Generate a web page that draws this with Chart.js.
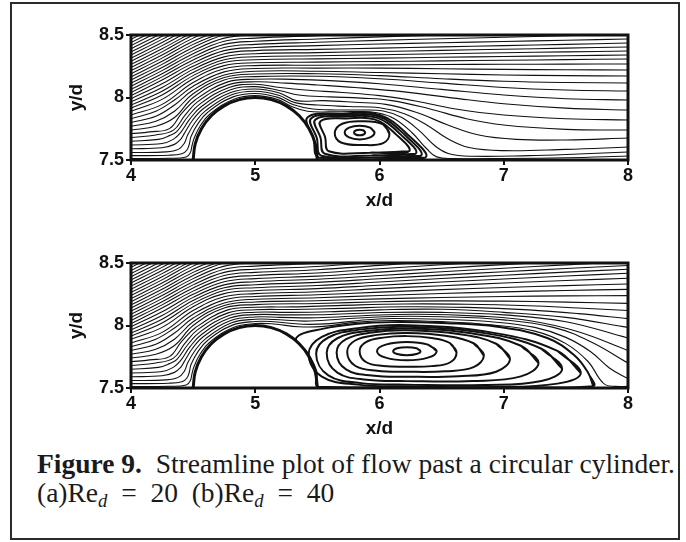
<!DOCTYPE html>
<html>
<head>
<meta charset="utf-8">
<script src="https://cdn.jsdelivr.net/npm/chart.js@4.4.1/dist/chart.umd.min.js"></script>
<style>
  body { margin: 0; background: #fff; }
  #wrap { position: relative; width: 686px; height: 542px; overflow: hidden; }
  #frame { position: absolute; left: 10px; top: 2px; width: 670px; height: 538px; border: 2px solid #2b2b2b; box-sizing: border-box; }
  canvas { position: absolute; left: 0; }
  #caption { position: absolute; left: 37px; top: 449px; font-family: "Liberation Serif", "Times New Roman", serif;
             font-size: 27.5px; line-height: 29px; color: #1a1a1a; white-space: nowrap; }
  #caption sub { font-size: 0.68em; line-height: 0; vertical-align: -0.28em; }
</style>
</head>
<body>
<div id="wrap">
  <div id="frame"></div>
  <canvas id="chartA" width="686" height="215" style="top:0px"></canvas>
  <canvas id="chartB" width="686" height="215" style="top:228px"></canvas>
  <div id="caption"><b>Figure 9.</b>&nbsp; Streamline plot of flow past a circular cylinder.<br>(a)Re<sub><i>d</i></sub>&ensp;=&ensp;20&ensp;(b)Re<sub><i>d</i></sub>&ensp;=&ensp;40</div>
</div>
<script>
// axes
const xTicks = [4, 5, 6, 7, 8];
const yTicks = [7.5, 8, 8.5];

// cylinder outline (x, y pairs)
const cylinder = [4.5,7.5, 4.517,7.629, 4.567,7.75, 4.646,7.854, 4.75,7.933, 4.871,7.983, 5,8,
  5.129,7.983, 5.25,7.933, 5.354,7.854, 5.433,7.75, 5.483,7.629, 5.5,7.5];

// streamlines upstream of x = 5 (same in both panels)
const upstream = [
  [4,7.512, 4.3,7.514, 4.445,7.524, 4.478,7.56, 4.49,7.61, 4.5095,7.6785, 4.559,7.7756, 4.6337,7.8663, 4.8235,7.9849, 5,8.015],
  [4,7.535, 4.3,7.538, 4.41,7.55, 4.45,7.58, 4.47,7.63, 4.483,7.688, 4.538,7.789, 4.618,7.882, 4.817,8.003, 5,8.032],
  [4,7.56, 4.28,7.565, 4.38,7.585, 4.43,7.635, 4.455,7.698, 4.517,7.802, 4.603,7.897, 4.81,8.022, 5,8.05],
  [4,7.59, 4.25,7.598, 4.35,7.625, 4.4,7.665, 4.427,7.709, 4.494,7.816, 4.586,7.914, 4.803,8.04, 5,8.068],
  [4,7.62, 4.25,7.632, 4.34,7.665, 4.399,7.719, 4.474,7.829, 4.57,7.93, 4.796,8.06, 5,8.087],
  [4,7.65, 4.22,7.665, 4.31,7.695, 4.37,7.729, 4.453,7.842, 4.553,7.947, 4.789,8.08, 5,8.106],
  [4,7.68, 4.2,7.7, 4.342,7.739, 4.432,7.855, 4.535,7.965, 4.781,8.101, 5,8.126],
  [4,7.71, 4.15,7.725, 4.309,7.751, 4.406,7.871, 4.518,7.982, 4.773,8.123, 5,8.146],
  [4,7.74, 4.2,7.77, 4.35,7.84, 4.5,8.0, 4.75,8.14, 5,8.167],
  [4,7.77, 4.2,7.81, 4.35,7.89, 4.5,8.03, 4.75,8.16, 5,8.188],
  [4,7.80, 4.2,7.85, 4.35,7.94, 4.5,8.06, 4.75,8.18, 5,8.21],
  [4,7.83, 4.2,7.89, 4.35,7.98, 4.5,8.09, 4.75,8.205, 5,8.232],
  [4,7.86, 4.25,7.945, 4.5,8.12, 4.75,8.23, 5,8.255],
  [4,7.89, 4.25,7.985, 4.5,8.15, 4.75,8.255, 5,8.278],
  [4,7.915, 4.25,8.02, 4.5,8.175, 4.75,8.28, 5,8.302],
  [4,7.94, 4.25,8.05, 4.5,8.2, 4.75,8.302, 5,8.326],
  [4,7.965, 4.25,8.08, 4.5,8.225, 4.75,8.325, 5,8.35],
  [4,7.99, 4.25,8.11, 4.5,8.25, 4.75,8.35, 5,8.375],
  [4,8.015, 4.25,8.14, 4.5,8.275, 4.75,8.375, 5,8.40],
  [4,8.04, 4.25,8.165, 4.5,8.30, 4.75,8.40, 5,8.425],
  [4,8.065, 4.25,8.19, 4.5,8.325, 4.75,8.425, 5,8.45],
  [4,8.09, 4.25,8.215, 4.5,8.35, 4.75,8.45, 5,8.475],
  [4,8.115, 4.25,8.24, 4.5,8.375, 4.75,8.475, 5,8.50],
  [4,8.14, 4.25,8.265, 4.5,8.40, 4.75,8.50, 5,8.525],
  [4,8.165, 4.25,8.29, 4.5,8.425, 4.75,8.525],
  [4,8.19, 4.25,8.315, 4.5,8.45, 4.75,8.55],
  [4,8.215, 4.25,8.34, 4.5,8.475, 4.75,8.575],
  [4,8.24, 4.25,8.365, 4.5,8.50, 4.75,8.60],
  [4,8.265, 4.25,8.39, 4.5,8.525],
  [4,8.29, 4.25,8.415, 4.5,8.55],
  [4,8.315, 4.25,8.44, 4.5,8.575],
  [4,8.34, 4.25,8.465, 4.5,8.60],
  [4,8.365, 4.25,8.49, 4.5,8.625],
  [4,8.39, 4.25,8.515, 4.5,8.65],
  [4,8.415, 4.25,8.54],
  [4,8.44, 4.25,8.565],
  [4,8.465, 4.25,8.59],
  [4,8.49, 4.25,8.615]
];

// downstream parts, Re = 20
const wakeA = [
  [5.1765,7.985, 5.298,7.926, 5.42,7.89, 5.6,7.885, 5.8,7.887, 5.98,7.878, 6.12,7.83, 6.26,7.72, 6.38,7.59, 6.46,7.525, 6.6,7.512, 7,7.512, 7.5,7.518, 8,7.532],
  [5.182,8.001, 5.31,7.942, 5.45,7.91, 5.65,7.9, 5.85,7.9, 6.03,7.892, 6.18,7.84, 6.32,7.735, 6.45,7.61, 6.56,7.55, 6.75,7.53, 7.2,7.535, 7.6,7.548, 8,7.564],
  [5.188,8.018, 5.321,7.959, 5.5,7.94, 5.75,7.928, 6,7.918, 6.2,7.87, 6.38,7.78, 6.55,7.67, 6.72,7.6, 7,7.575, 7.5,7.585, 8,7.604],
  [5.195,8.036, 5.333,7.975, 5.55,7.975, 5.8,7.962, 6.05,7.945, 6.3,7.88, 6.55,7.78, 6.8,7.7, 7.1,7.665, 7.5,7.66, 8,7.676],
  [5.202,8.054, 5.35,8.02, 5.6,8.005, 5.85,7.995, 6.1,7.975, 6.4,7.91, 6.7,7.83, 7,7.78, 7.5,7.745, 8,7.74],
  [5.2,8.08, 5.4,8.06, 5.7,8.04, 6,8.015, 6.3,7.97, 6.6,7.91, 7,7.86, 7.5,7.83, 8,7.82],
  [5.25,8.115, 5.5,8.1, 5.8,8.08, 6.2,8.045, 6.6,7.995, 7,7.95, 7.5,7.915, 8,7.90],
  [5.3,8.145, 5.6,8.135, 6,8.11, 6.5,8.065, 7,8.02, 7.5,7.99, 8,7.98],
  [5.5,8.17, 6,8.15, 6.5,8.115, 7,8.08, 7.5,8.06, 8,8.052],
  [5.5,8.19, 6,8.175, 6.5,8.15, 7,8.13, 7.5,8.12, 8,8.116],
  [5.5,8.21, 6,8.2, 6.5,8.19, 7,8.18, 7.5,8.175, 8,8.172],
  [5.5,8.235, 6,8.235, 6.5,8.23, 7,8.225, 7.5,8.222, 8,8.22],
  [5.5,8.258, 6,8.261, 6.5,8.264, 7,8.266, 7.5,8.267, 8,8.268],
  [5.5,8.283, 6,8.288, 6.5,8.293, 7,8.298, 7.5,8.303, 8,8.308],
  [5.5,8.309, 6,8.315, 6.5,8.322, 7,8.328, 7.5,8.334, 8,8.34],
  [5.5,8.334, 6,8.342, 6.5,8.35, 7,8.358, 7.5,8.365, 8,8.372],
  [5.5,8.359, 6,8.368, 6.5,8.377, 7,8.386, 7.5,8.395, 8,8.404],
  [5.5,8.385, 6,8.395, 6.5,8.405, 7,8.415, 7.5,8.425, 8,8.436],
  [5.5,8.415, 6,8.428, 6.5,8.438, 7,8.448, 7.5,8.458, 8,8.468],
  [5.5,8.442, 6,8.457, 6.5,8.47, 7,8.482, 7.5,8.494, 8,8.506],
  [5.5,8.468, 6,8.485, 6.5,8.5, 7,8.515],
  [5.5,8.495, 6,8.515],
  [5.5,8.52]
];

// downstream parts, Re = 40
const wakeB = [
  [5.15,8.012, 5.35,7.99, 5.55,7.993, 5.8,8.025, 6.1,8.04, 6.5,8.031, 6.9,8.005, 7.25,7.955, 7.5,7.855, 7.68,7.71, 7.77,7.575, 7.82,7.525, 7.9,7.513, 8,7.513],
  [5.15,8.03, 5.38,8.01, 5.6,8.015, 5.85,8.042, 6.1,8.056, 6.5,8.05, 6.9,8.03, 7.25,7.985, 7.5,7.905, 7.7,7.79, 7.85,7.66, 8,7.575],
  [5.15,8.048, 5.4,8.035, 5.7,8.052, 6.1,8.072, 6.5,8.07, 7.0,8.045, 7.4,7.985, 7.7,7.87, 8,7.70],
  [5.2,8.065, 5.5,8.062, 5.9,8.08, 6.3,8.09, 6.8,8.075, 7.2,8.04, 7.6,7.95, 8,7.80],
  [5.25,8.085, 5.6,8.088, 6.0,8.104, 6.5,8.105, 7.0,8.085, 7.5,8.03, 8,7.90],
  [5.25,8.105, 5.6,8.11, 6.0,8.125, 6.5,8.13, 7.0,8.105, 7.5,8.065, 8,7.985],
  [5.3,8.128, 5.7,8.137, 6.2,8.15, 6.7,8.145, 7.2,8.125, 7.6,8.095, 8,8.055],
  [5.3,8.149, 5.7,8.161, 6.2,8.172, 6.7,8.17, 7.2,8.158, 7.6,8.14, 8,8.12],
  [5.5,8.176, 6,8.19, 6.5,8.197, 7,8.195, 7.5,8.187, 8,8.177],
  [5.5,8.198, 6,8.213, 6.5,8.224, 7,8.232, 7.5,8.237, 8,8.239],
  [5.5,8.222, 6,8.24, 6.5,8.256, 7,8.269, 7.5,8.28, 8,8.289],
  [5.5,8.246, 6,8.267, 6.5,8.287, 7,8.304, 7.5,8.319, 8,8.332],
  [5.5,8.27, 6,8.295, 6.5,8.318, 7,8.34, 7.5,8.36, 8,8.378],
  [5.5,8.295, 6,8.322, 6.5,8.348, 7,8.372, 7.5,8.396, 8,8.418],
  [5.5,8.32, 6,8.348, 6.5,8.376, 7,8.402, 7.5,8.427, 8,8.45],
  [5.5,8.345, 6,8.374, 6.5,8.403, 7,8.43, 7.5,8.456, 8,8.48],
  [5.5,8.37, 6,8.4, 6.5,8.43, 7,8.458, 7.5,8.485, 8,8.51],
  [5.5,8.395, 6,8.427, 6.5,8.458, 7,8.487, 7.5,8.515],
  [5.5,8.42, 6,8.454, 6.5,8.486, 7,8.516],
  [5.5,8.446, 6,8.481, 6.5,8.515],
  [5.5,8.472, 6,8.508],
  [5.5,8.498, 6,8.535],
  [5.5,8.525]
];

// closed recirculation loops, Re = 20
const eddyA = [
  [5.885,7.72, 5.872,7.736, 5.84,7.742, 5.808,7.736, 5.795,7.72, 5.808,7.704, 5.84,7.698, 5.872,7.704],
  [5.96,7.72, 5.925,7.759, 5.84,7.775, 5.755,7.759, 5.72,7.72, 5.755,7.681, 5.84,7.665, 5.925,7.681],
  [6.08,7.71, 6.03,7.785, 5.86,7.81, 5.7,7.79, 5.64,7.715, 5.69,7.64, 5.87,7.62, 6.03,7.635],
  [5.9225,7.559, 6.2375,7.57, 6.1325,7.705, 5.96,7.825, 5.735,7.8325, 5.525,7.81, 5.5625,7.6825, 5.5925,7.57],
  [5.9335,7.537, 6.2905,7.55, 6.1715,7.703, 5.976,7.839, 5.721,7.8475, 5.483,7.822, 5.5255,7.6775, 5.5595,7.55],
  [5.942,7.52, 6.333,7.534, 6.2027,7.7014, 5.989,7.85, 5.71,7.8595, 5.449,7.832, 5.496,7.6735, 5.533,7.534],
  [5.95,7.505, 6.37,7.52, 6.23,7.70, 6.0,7.86, 5.7,7.87, 5.42,7.84, 5.47,7.67, 5.51,7.52]
];

// closed recirculation loops, Re = 40
const eddyB = [
  [6.33,7.795, 6.298,7.818, 6.22,7.827, 6.142,7.818, 6.11,7.795, 6.142,7.772, 6.22,7.763, 6.298,7.772],
  [6.46,7.795, 6.39,7.847, 6.22,7.868, 6.05,7.847, 5.98,7.795, 6.05,7.743, 6.22,7.722, 6.39,7.743],
  [6.62,7.785, 6.566,7.86, 6.42,7.9, 6.22,7.915, 6.03,7.903, 5.891,7.867, 5.84,7.795, 5.891,7.708, 6.03,7.676, 6.22,7.67, 6.42,7.675, 6.566,7.704],
  [6.84,7.76, 6.757,7.858, 6.53,7.918, 6.22,7.94, 5.98,7.925, 5.804,7.88, 5.74,7.79, 5.804,7.678, 5.98,7.638, 6.22,7.63, 6.53,7.634, 6.757,7.667],
  [7.05,7.735, 6.939,7.854, 6.635,7.932, 6.22,7.962, 5.938,7.944, 5.731,7.891, 5.655,7.785, 5.731,7.649, 5.938,7.6, 6.22,7.59, 6.635,7.594, 6.939,7.63],
  [7.28,7.70, 7.138,7.838, 6.75,7.936, 6.22,7.976, 5.898,7.956, 5.661,7.898, 5.575,7.78, 5.661,7.623, 5.898,7.566, 6.22,7.555, 6.75,7.556, 7.138,7.593],
  [7.47,7.655, 7.303,7.814, 6.845,7.939, 6.22,7.99, 5.855,7.969, 5.588,7.904, 5.49,7.775, 5.588,7.601, 5.855,7.539, 6.22,7.527, 6.845,7.524, 7.303,7.556],
  [7.62,7.62, 7.432,7.797, 6.92,7.941, 6.22,8.002, 5.825,7.979, 5.536,7.909, 5.43,7.77, 5.536,7.591, 5.825,7.527, 6.22,7.514, 6.92,7.508, 7.432,7.535],
  [7.72,7.515, 7.68,7.62, 7.57,7.76, 7.35,7.90, 6.95,7.99, 6.5,8.02, 6.1,8.027, 5.8,8.012, 5.55,7.975, 5.33,7.90,
   5.42,7.78, 5.49,7.64, 5.51,7.51, 6.2,7.505, 7.2,7.505]
];

const INK = '#111';
const SANS = '"Liberation Sans", Arial, Helvetica, sans-serif';

function toPts(flat) {
  const pts = [];
  for (let i = 0; i < flat.length; i += 2) pts.push({ x: flat[i], y: flat[i + 1] });
  return pts;
}

function lineSet(flat, width) {
  return { data: toPts(flat), showLine: true, borderColor: INK, borderWidth: width,
           pointRadius: 0, tension: 0.4, fill: false };
}

// frame round the plot area
const boxPlugin = {
  id: 'box',
  afterDatasetsDraw(chart) {
    const a = chart.chartArea, c = chart.ctx;
    c.save();
    c.lineWidth = 3;
    c.strokeStyle = INK;
    c.strokeRect(a.left, a.top, a.right - a.left, a.bottom - a.top);
    c.restore();
  }
};

function makeChart(id, wake, eddies) {
  const datasets = [];
  upstream.forEach((up, k) => {
    datasets.push(lineSet(up.concat(wake[k] || []), 1.1));
  });
  eddies.forEach(loop => {
    // close the loop: repeat first two points
    datasets.push(lineSet(loop.concat(loop.slice(0, 4)), 2));
  });
  datasets.push(lineSet(cylinder, 3));

  new Chart(document.getElementById(id), {
    type: 'scatter',
    data: { datasets },
    options: {
      responsive: false,
      animation: false,
      events: [],
      layout: { padding: { top: 35, right: 58, left: 0, bottom: 0 } },
      plugins: { legend: { display: false }, tooltip: { enabled: false } },
      scales: {
        x: {
          type: 'linear', min: 4, max: 8,
          afterBuildTicks: s => { s.ticks = xTicks.map(v => ({ value: v })); },
          afterFit: s => { s.height = 55; },
          border: { display: false },
          grid: { drawOnChartArea: false, drawTicks: true, tickLength: 5, lineWidth: 2, color: INK },
          ticks: { color: INK, padding: 0, maxRotation: 0, font: { family: SANS, size: 18, weight: 'bold' },
                   callback: v => String(v) },
          title: { display: true, text: 'x/d', color: INK, padding: { top: 0, bottom: 3 },
                   font: { family: SANS, size: 19, weight: 'bold' } }
        },
        y: {
          type: 'linear', min: 7.5, max: 8.5,
          afterBuildTicks: s => { s.ticks = yTicks.map(v => ({ value: v })); },
          afterFit: s => { s.width = 131; },
          border: { display: false },
          grid: { drawOnChartArea: false, drawTicks: true, tickLength: 5, lineWidth: 2, color: INK },
          ticks: { color: INK, padding: 2, font: { family: SANS, size: 18, weight: 'bold' },
                   callback: v => String(v) },
          title: { display: true, text: 'y/d', color: INK, padding: { top: 65, bottom: 0 },
                   font: { family: SANS, size: 19, weight: 'bold' } }
        }
      }
    },
    plugins: [boxPlugin]
  });
}

makeChart('chartA', wakeA, eddyA);
makeChart('chartB', wakeB, eddyB);
</script>
</body>
</html>
